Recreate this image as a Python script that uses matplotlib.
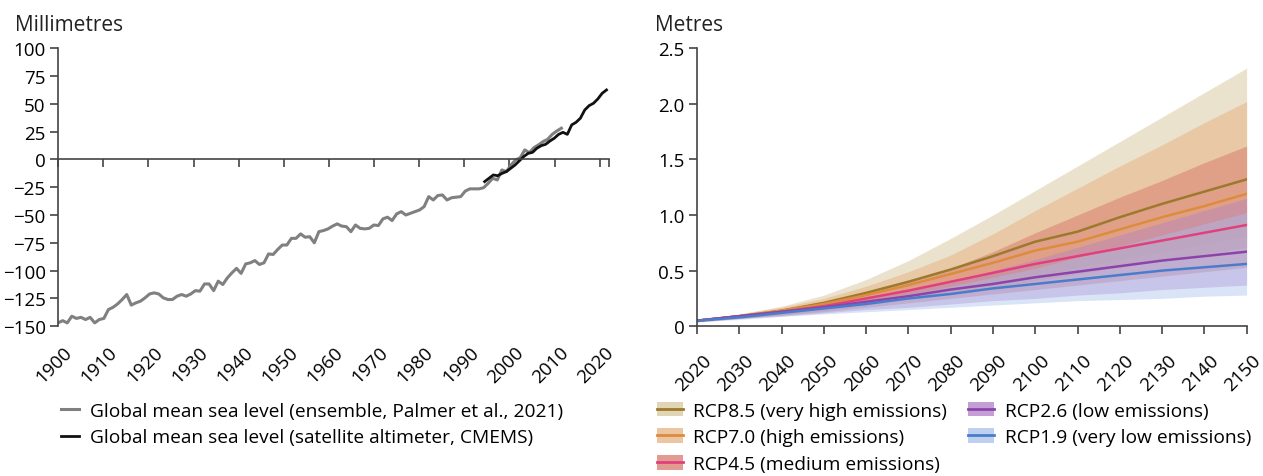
import matplotlib
matplotlib.use("Agg")
import matplotlib.pyplot as plt
from matplotlib.patches import Patch
from matplotlib.lines import Line2D
from matplotlib.transforms import ScaledTranslation
import numpy as np

plt.rcParams["font.family"] = ["Open Sans", "DejaVu Sans"]

# left panel: global mean sea level (mm)
gmsl_ensemble = [
    -147, -145, -147, -141, -143, -142, -144, -142, -147, -144,
    -143, -135, -133, -130, -126, -121.5, -131, -129, -127.5, -124.5,
    -121, -120, -121, -124.5, -126, -126, -123, -121.5, -123, -121,
    -118, -118.5, -112, -112, -118, -109.5, -112.5, -106.5, -102, -98,
    -102.5, -94, -93, -91, -94.5, -93, -85, -85.5, -81, -77,
    -77, -71, -71, -67, -70, -69.5, -75, -65, -64, -62.5,
    -60, -58, -60, -60.5, -65, -59, -62, -62.5, -62, -59,
    -59.5, -53.5, -52, -55, -49, -47, -50, -48.5, -47, -45.5,
    -42.5, -33.5, -36.5, -32.5, -32, -36.5, -34.5, -34, -33.5, -28.5,
    -26.5, -26.5, -26.5, -25.5, -21.5, -17, -18.5, -9.5, -11, -5,
    -0.5, 1.5, 8.5, 6, 10.5, 13, 16, 18, 22.5, 25.5, 28,
]
ensemble_years = np.linspace(1900, 2011.5, len(gmsl_ensemble))

gmsl_satellite = [
    -20, -17, -14, -14.7, -12.6, -11, -8, -5, -1.2, 2.6,
    5.4, 6.3, 10, 12.3, 13.5, 16.5, 19, 22.5, 24.3, 22.5,
    31, 33.3, 37, 44.4, 48.3, 50.4, 54.3, 59.4, 62.4,
]
satellite_years = np.linspace(1994.5, 2021.5, len(gmsl_satellite))

# right panel: projections (m), median and likely range
proj_years = list(range(2020, 2151, 10))
scenarios = ["RCP8.5 (very high emissions)", "RCP7.0 (high emissions)",
             "RCP4.5 (medium emissions)", "RCP2.6 (low emissions)",
             "RCP1.9 (very low emissions)"]
median = {
    "RCP8.5": [0.05, 0.09, 0.14, 0.21, 0.30, 0.40, 0.51, 0.63, 0.76, 0.85, 0.98, 1.10, 1.21, 1.32],
    "RCP7.0": [0.05, 0.09, 0.14, 0.20, 0.28, 0.37, 0.47, 0.57, 0.68, 0.76, 0.87, 0.98, 1.08, 1.19],
    "RCP4.5": [0.05, 0.09, 0.13, 0.18, 0.25, 0.32, 0.40, 0.48, 0.56, 0.63, 0.70, 0.77, 0.84, 0.91],
    "RCP2.6": [0.05, 0.09, 0.13, 0.17, 0.22, 0.27, 0.33, 0.38, 0.44, 0.49, 0.54, 0.59, 0.63, 0.67],
    "RCP1.9": [0.05, 0.08, 0.12, 0.16, 0.20, 0.25, 0.29, 0.34, 0.38, 0.42, 0.46, 0.50, 0.53, 0.56],
}
upper = {
    "RCP8.5": [0.06, 0.11, 0.18, 0.28, 0.42, 0.59, 0.79, 1.00, 1.22, 1.44, 1.66, 1.88, 2.10, 2.32],
    "RCP7.0": [0.06, 0.11, 0.17, 0.25, 0.36, 0.49, 0.64, 0.83, 1.04, 1.24, 1.44, 1.63, 1.83, 2.02],
    "RCP4.5": [0.06, 0.10, 0.15, 0.22, 0.30, 0.40, 0.52, 0.67, 0.84, 1.00, 1.16, 1.31, 1.47, 1.62],
    "RCP2.6": [0.06, 0.10, 0.14, 0.19, 0.25, 0.32, 0.40, 0.50, 0.60, 0.71, 0.82, 0.93, 1.04, 1.15],
    "RCP1.9": [0.06, 0.09, 0.13, 0.18, 0.23, 0.29, 0.36, 0.44, 0.52, 0.62, 0.72, 0.82, 0.92, 1.02],
}
lower = {
    "RCP8.5": [0.04, 0.07, 0.11, 0.15, 0.20, 0.26, 0.32, 0.39, 0.46, 0.53, 0.60, 0.67, 0.74, 0.81],
    "RCP7.0": [0.04, 0.07, 0.10, 0.14, 0.19, 0.24, 0.29, 0.35, 0.41, 0.47, 0.53, 0.59, 0.65, 0.71],
    "RCP4.5": [0.04, 0.07, 0.10, 0.13, 0.17, 0.21, 0.25, 0.29, 0.33, 0.37, 0.41, 0.45, 0.49, 0.53],
    "RCP2.6": [0.04, 0.07, 0.09, 0.12, 0.15, 0.17, 0.20, 0.23, 0.25, 0.28, 0.30, 0.33, 0.35, 0.37],
    "RCP1.9": [0.04, 0.06, 0.09, 0.11, 0.13, 0.15, 0.17, 0.19, 0.21, 0.23, 0.24, 0.25, 0.27, 0.28],
}
line_colors = ["#9b7a2c", "#dc8c3c", "#e2407c", "#8c44aa", "#4a7ccc"]
fill_colors = ["#d8c79c", "#e6b384", "#d97a6c", "#b07fc8", "#a9c0ec"]
fill_alpha = [0.5, 0.55, 0.5, 0.42, 0.42]

spine_color = "#444444"
fig = plt.figure(figsize=(12.63, 4.77), dpi=100)
ax1 = fig.add_axes([0.046, 0.314, 0.436, 0.583])
ax2 = fig.add_axes([0.552, 0.314, 0.435, 0.583])
label_shift = ScaledTranslation(5 / 100, 0, fig.dpi_scale_trans)


def slant(labels):
    for lab in labels:
        lab.set_rotation(45)
        lab.set_ha("right")
        lab.set_rotation_mode("anchor")
        lab.set_transform(lab.get_transform() + label_shift)


# ---- left panel
ax1.plot(ensemble_years, gmsl_ensemble, color="#808080", lw=2.2,
         label="Global mean sea level (ensemble, Palmer et al., 2021)")
ax1.plot(satellite_years, gmsl_satellite, color="#111111", lw=2.0,
         label="Global mean sea level (satellite altimeter, CMEMS)")
ax1.set_xlim(1900, 2022)
ax1.set_ylim(-150, 100)
ax1.set_yticks(range(-150, 101, 25))
ax1.set_xticks(range(1900, 2021, 10))
ax1.set_xticks([2022], minor=True)
ax1.spines["bottom"].set_position(("data", 0))
for s in ["top", "right"]:
    ax1.spines[s].set_visible(False)
for s in ["bottom", "left"]:
    ax1.spines[s].set_color(spine_color)
    ax1.spines[s].set_linewidth(1.2)
ax1.tick_params(axis="x", which="both", direction="out", length=6,
                color=spine_color, width=1.2, labelbottom=False)
ax1.tick_params(axis="y", length=6, color=spine_color, width=1.2,
                labelsize=13.5, pad=3)
sec = ax1.secondary_xaxis("bottom")
sec.set_xticks(range(1900, 2021, 10))
sec.spines["bottom"].set_visible(False)
sec.tick_params(length=0, labelsize=13.5, pad=12)
slant(sec.get_xticklabels())

# ---- right panel
handles = []
for i, key in enumerate(median):
    ax2.fill_between(proj_years, lower[key], upper[key], color=fill_colors[i],
                     alpha=fill_alpha[i], lw=0)
for i, key in enumerate(median):
    ax2.plot(proj_years, median[key], color=line_colors[i], lw=1.8)
    handles.append((Patch(facecolor=fill_colors[i], alpha=0.75, lw=0),
                    Line2D([], [], color=line_colors[i], lw=2)))
ax2.set_xlim(2020, 2150)
ax2.set_ylim(0, 2.5)
ax2.set_xticks(range(2020, 2151, 10))
ax2.set_yticks([0, 0.5, 1.0, 1.5, 2.0, 2.5])
ax2.set_yticklabels(["0", "0.5", "1.0", "1.5", "2.0", "2.5"])
for s in ["top", "right"]:
    ax2.spines[s].set_visible(False)
for s in ["bottom", "left"]:
    ax2.spines[s].set_color(spine_color)
    ax2.spines[s].set_linewidth(1.2)
ax2.tick_params(axis="x", length=6, color=spine_color, width=1.2,
                labelsize=13.5, pad=12)
ax2.tick_params(axis="y", length=6, color=spine_color, width=1.2,
                labelsize=13.5, pad=3)
slant(ax2.get_xticklabels())

fig.text(0.012, 0.935, "Millimetres", fontsize=15, color="#222222")
fig.text(0.519, 0.935, "Metres", fontsize=15, color="#222222")

fig.legend(*ax1.get_legend_handles_labels(), loc="upper left",
           bbox_to_anchor=(0.048, 0.156), frameon=False, fontsize=13.8,
           handlelength=0.95, handletextpad=0.6, labelspacing=0.45,
           borderaxespad=0, borderpad=0)
fig.legend(handles, scenarios, loc="upper left", ncol=2,
           bbox_to_anchor=(0.52, 0.156), frameon=False, fontsize=13.8,
           handlelength=1.35, handleheight=0.8, handletextpad=0.55,
           labelspacing=0.45, columnspacing=1.1,
           borderaxespad=0, borderpad=0)

fig.savefig("out.png", dpi=100)
